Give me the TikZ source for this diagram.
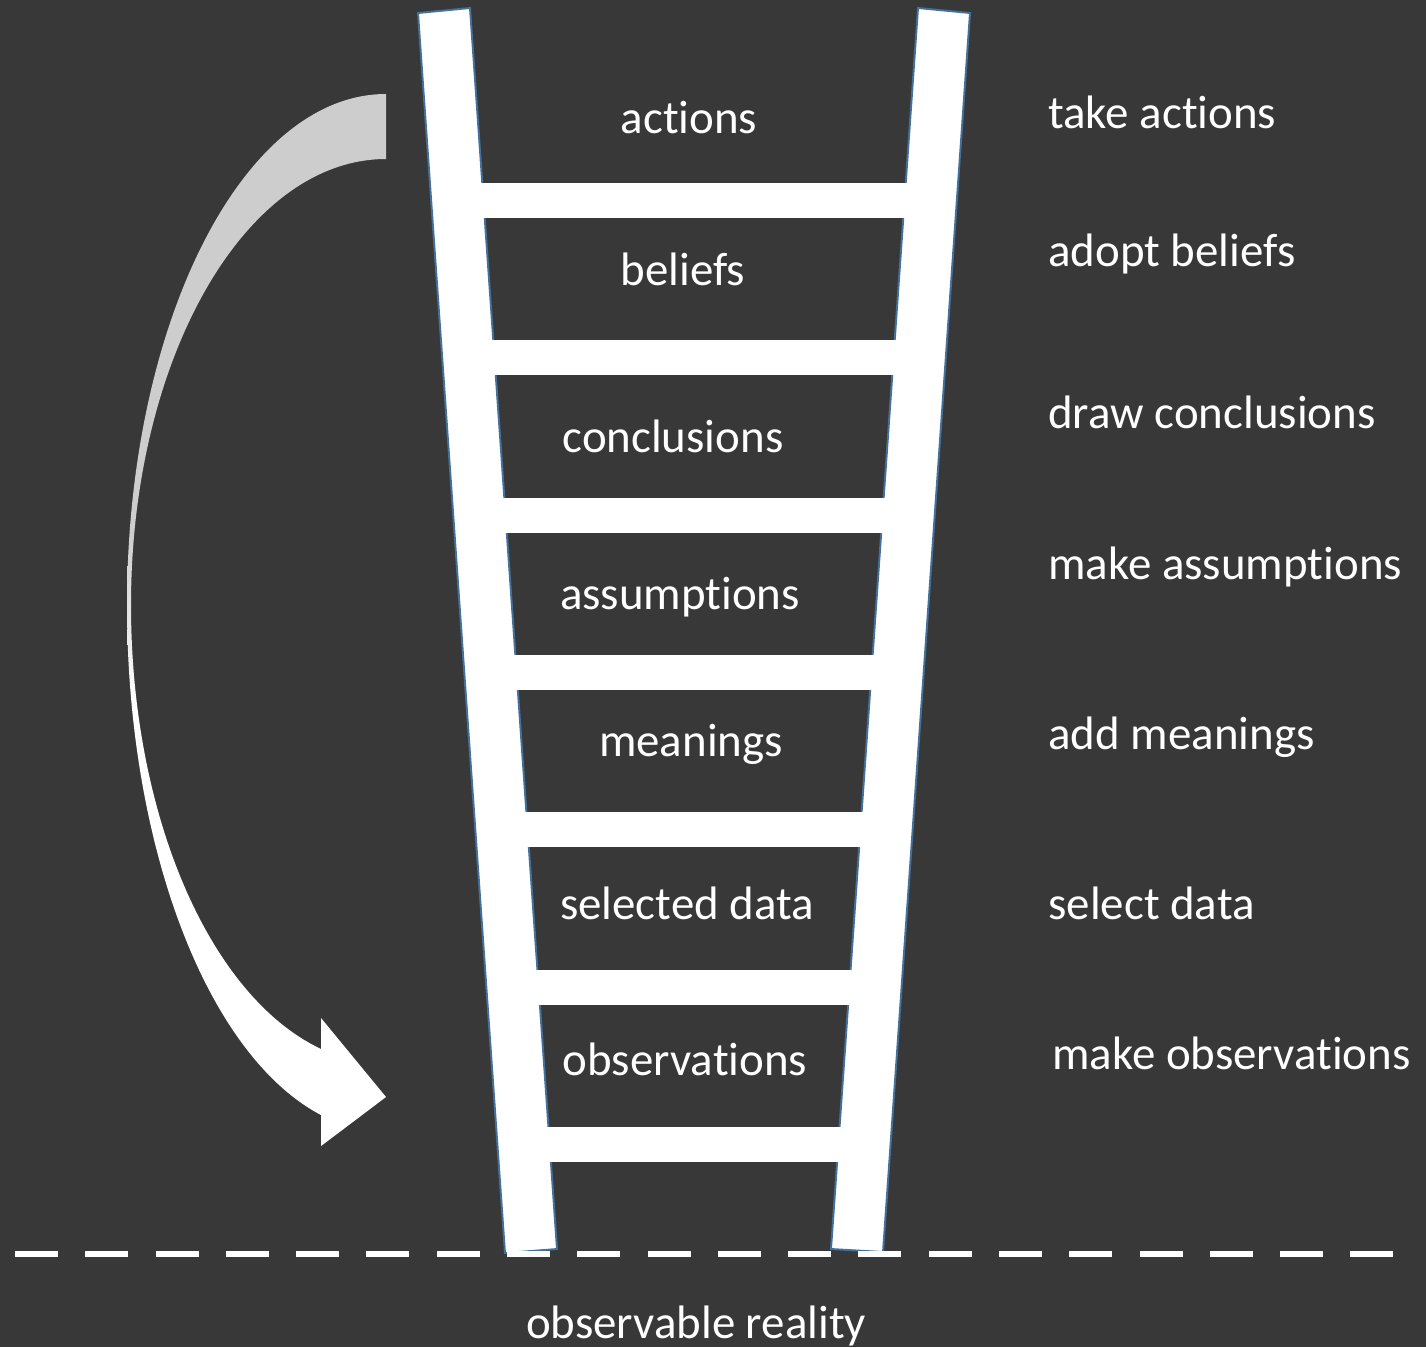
\documentclass[tikz,border=0pt]{standalone}
\usepackage{fontspec}
\setmainfont{Carlito}[Ligatures={NoCommon,NoContextual}]
\definecolor{board}{HTML}{383838}
\definecolor{railblue}{HTML}{41719C}
\definecolor{arrowgray}{HTML}{CDCDCD}
\pgfdeclareverticalshading{arrowfade}{100bp}{color(0bp)=(white); color(46bp)=(white); color(54bp)=(arrowgray); color(100bp)=(arrowgray)}
\newcommand\noti{\kern0pt}
\tikzset{
	rail/.style={fill=white, draw=railblue, line width=1.1pt},
	word/.style={text=white, inner sep=0pt, font=\fontsize{26.7}{32}\selectfont},
	rung word/.style={word, anchor=base},
	side word/.style={word, anchor=base west},
}
\begin{document}
\begin{tikzpicture}[x=0.02cm, y=-0.02cm]
			\fill[board] (0,0) rectangle (1426,1347);
			\useasboundingbox (0,0) rectangle (1426,1347);
			% rails and rungs
			\path[rail] (418,13) -- (470,8) -- (557,1249) -- (505,1253) -- cycle;
			\path[rail] (918,8) -- (970,13) -- (883,1252) -- (831,1249) -- cycle;
			\foreach \i in {0,...,6} {
				\pgfmathsetmacro\y{183+157.3*\i}
				\fill[white] ({444+(\y+7)*0.0702},\y) rectangle ({944-(\y+7)*0.0702},\y+35);
			}
			% curved arrow
			\path[shading=arrowfade] (386,94) .. controls (243,94) and (127,323) .. (127,605)
				.. controls (127,846) and (207,1055) .. (321,1115) -- (321,1146) -- (386,1097)
				-- (321,1018) -- (321,1049) .. controls (209,996) and (131,814) .. (131,605)
				.. controls (131,359) and (245,159) .. (386,159) -- cycle;
			% ground
			\coordinate (G_w) at (15,1254);
			\coordinate (G_e) at (1396,1254);
			\draw[white, line width=0.11cm, dash pattern=on 0.86cm off 0.546cm] (G_w) -- (G_e);
			\node[rung word] (L_0) at (689,133) {act\noti ions};
			\node[rung word] (L_1) at (683,285) {beliefs};
			\node[rung word] (L_2) at (673,452) {conclusions};
			\node[rung word] (L_3) at (680,609) {assumpt\noti ions};
			\node[rung word] (L_4) at (691,756) {meanings};
			\node[rung word] (L_5) at (687,919) {selected data};
			\node[rung word] (L_6) at (685,1075) {observat\noti ions};
			\node[side word] (R_0) at (1048,128) {take act\noti ions};
			\node[side word] (R_1) at (1048,266) {adopt beliefs};
			\node[side word] (R_2) at (1048,428) {draw conclusions};
			\node[side word] (R_3) at (1048,579) {make assumpt\noti ions};
			\node[side word] (R_4) at (1048,749) {add meanings};
			\node[side word] (R_5) at (1048,919) {select data};
			\node[side word] (R_6) at (1052,1069) {make observat\noti ions};
			\node[rung word] (B_0) at (696,1338) {observable reality};
		\end{tikzpicture}
\end{document}
